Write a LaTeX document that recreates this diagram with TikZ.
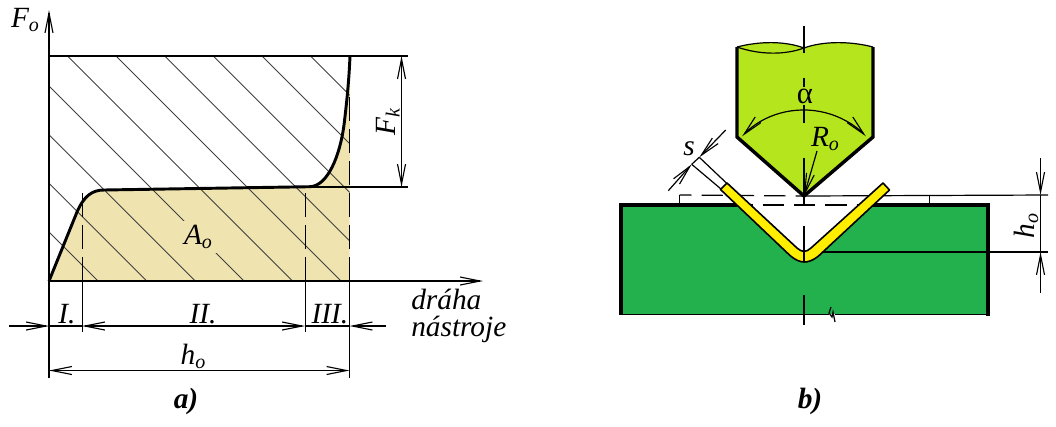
\documentclass[tikz,border=0pt]{standalone}
\usepackage{fontspec}
\setmainfont{Liberation Serif}
\usetikzlibrary{arrows.meta}
\definecolor{areafill}{HTML}{EFE3B0}
\definecolor{punchfill}{HTML}{B5E61D}
\definecolor{diefill}{HTML}{22B14C}
\definecolor{sheetfill}{HTML}{FFEE00}
\newcommand{\subsc}[1]{\raisebox{-3pt}{\fontsize{15}{15}\selectfont #1}}
\newcommand{\forcecurve}{(49,281) -- (77,212) .. controls (84,196) and (92,190) .. (104,190)
  -- (310,186.7) .. controls (328,186) and (340,155) .. (344,125) .. controls (347,100) and (349,80) .. (350,56)}
\tikzset{
  thinline/.style={line width=0.9pt},
  hatchline/.style={line width=0.65pt,black!75},
  thickline/.style={line width=2.2pt},
  longdash/.style={line width=0.8pt,dash pattern=on 18pt off 6pt},
  bendtip/.style={-{Straight Barb[length=15pt,width=6pt,line width=0.85pt]}},
  bothtip/.style={{Straight Barb[length=15pt,width=6pt,line width=0.85pt]}-{Straight Barb[length=15pt,width=6pt,line width=0.85pt]}},
  lbl/.style={inner sep=0pt,font=\fontsize{22}{20.5}\selectfont\itshape},
}
\begin{document}
\begin{tikzpicture}[x=0.75pt,y=-0.75pt]
  \useasboundingbox (0,0) rectangle (1056,426);
  % a) coordinates
  \coordinate (axistop) at (49,10);
  \coordinate (axisbot) at (49,378);
  \coordinate (xend) at (483,281);
  \coordinate (org) at (49,281);
  \coordinate (topl) at (49,56);
  \coordinate (topr) at (408,56);
  \coordinate (midl) at (310,187);
  \coordinate (midr) at (408,187);
  \coordinate (fkt) at (401.5,56);
  \coordinate (fkb) at (401.5,187);
  \coordinate (dl) at (9,326);
  \coordinate (d0) at (49,326);
  \coordinate (d1) at (82,326);
  \coordinate (d2) at (305,326);
  \coordinate (d3) at (349.5,326);
  \coordinate (dr) at (386,326);
  \coordinate (h0) at (49,370.5);
  \coordinate (h1) at (349.5,370.5);
  % a) area and hatching
  \fill[areafill] \forcecurve -- (349.5,281) -- cycle;
  \begin{scope}
    \clip (49,56) rectangle (349.5,281);
    \foreach \k in {-4,...,5}
      \draw[hatchline] ({67.5+48.6*\k},56) -- ++(240,240);
  \end{scope}
  \node[fill=areafill,minimum width=25.5pt,minimum height=24pt,inner sep=0pt] (areabg) at (200,237) {};
  \draw[thickline] \forcecurve;
  % a) axes and limits
  \draw[thinline,bendtip] (axisbot) -- (axistop);
  \draw[thinline,bendtip] (org) -- (xend);
  \draw[thinline] (topl) -- (topr);
  \draw[thinline] (midl) -- (midr);
  \draw[longdash] (82.4,281) -- (82.4,193);
  \draw[longdash] (305.4,281) -- (305.4,189);
  \draw[longdash] (349.5,281) -- (349.5,92);
  \draw[thinline] (82.4,281) -- (82.4,332);
  \draw[thinline] (305.4,281) -- (305.4,332);
  \draw[thinline] (349.5,281) -- (349.5,378);
  % a) dimensions
  \draw[thinline,bothtip] (fkt) -- (fkb);
  \draw[thinline,bendtip] (dl) -- (d0);
  \draw[thinline] (d0) -- (d1);
  \draw[thinline,bothtip] (d1) -- (d2);
  \draw[thinline] (d2) -- (d3);
  \draw[thinline,bendtip] (dr) -- (d3);
  \draw[thinline,bothtip] (h0) -- (h1);
  % a) labels
  \node[lbl] (fo) at (25,20) {F\subsc{o}};
  \node[lbl,rotate=90] (fk) at (388,122) {F\subsc{k}};
  \node[lbl] (ao) at (198,237) {A\subsc{o}};
  \node[lbl] (one) at (67,314) {I.};
  \node[lbl] (two) at (203,314) {II.};
  \node[lbl] (three) at (330,314) {III.};
  \node[lbl] (ho) at (193,356) {h\subsc{o}};
  \node[lbl,anchor=west,align=left] (path) at (411,316) {dráha\\nástroje};
  \node[lbl,font=\fontsize{22}{24}\selectfont\itshape\bfseries] (parta) at (186,401) {a)};
  % b) coordinates
  \coordinate (tip) at (804,196);
  \coordinate (leader) at (817,151);
  \coordinate (refl) at (679.5,195);
  \coordinate (refr) at (1048,195);
  \coordinate (refm) at (929.5,195);
  \coordinate (diel) at (679.5,205);
  \coordinate (dier) at (929.5,205);
  \coordinate (botl) at (804,252);
  \coordinate (botr) at (1048,252);
  \coordinate (hot) at (1040.5,158);
  \coordinate (hom) at (1040.5,195);
  \coordinate (hob) at (1040.5,293);
  \coordinate (hoc) at (1040.5,252);
  \coordinate (sa) at (668.3,190.7);
  \coordinate (sb) at (725.7,130);
  \coordinate (s1) at (691.7,164.3);
  \coordinate (s2) at (699.3,157.3);
  % b) die
  \fill[diefill] (621,205) -- (736,205) -- (790,255) .. controls (800,264) and (808,264) .. (818,256)
    -- (872,205) -- (988,205) -- (988,314.5) -- (621,314.5) -- cycle;
  \draw[thickline,line width=2.6pt] (737,205) -- (621,205) -- (621,314.5);
  \draw[thickline,line width=2.6pt] (872,205) -- (988,205) -- (988,316);
  \draw[thinline] (621,314.5) -- (988,314.5);
  \draw[line width=0.9pt,white] (829,314.5) -- (835,314.5);
  \draw[line width=0.9pt] (831,307) -- (829,313) -- (832,317) -- (833,312) -- (835,322);
  % b) reference lines
  \draw[thinline] (tip) -- (refr);
  \draw[thinline,dash pattern=on 16pt off 7.5pt,dash phase=7pt] (refl) -- (tip);
  \draw[thinline,dash pattern=on 16pt off 7.5pt] (731.4,205) -- (872,205);
  \draw[thinline] (refl) -- (diel);
  \draw[thinline] (refm) -- (dier);
  \draw[thinline] (botl) -- (botr);
  % b) centre line
  \foreach \ya/\yb in {196/205,226/262,295/325}
    \draw[thinline] (804,\ya) -- (804,\yb);
  % b) punch
  \fill[punchfill] (737,47) .. controls (760,41) and (785,41) .. (804,48)
    .. controls (823,41) and (850,41) .. (873,47) -- (873,137) -- (tip) -- (737,137) -- cycle;
  \draw[thinline] (737,47) .. controls (760,41) and (785,41) .. (804,48)
    .. controls (823,41) and (850,41) .. (873,47);
  \draw[thinline] (737,47) .. controls (760,55) and (785,55) .. (804,48);
  \draw[thickline,line width=2.6pt] (737,47) -- (737,137) -- (tip) -- (873,137) -- (873,47);
  \foreach \ya/\yb in {26/53,78/87,105/123,158/196}
    \draw[thinline] (804,\ya) -- (804,\yb);
  \draw[thinline,bothtip] (tip) ++(-136:86) arc (-136:-44:86);
  \draw[thinline,bendtip] (leader) -- (tip);
  % b) sheet
  \filldraw[fill=sheetfill,draw=black,line width=1.2pt,line join=round]
    (720.5,189.5) -- (790,255.5) .. controls (800,264) and (808,264) .. (818,256.5) -- (889.5,190)
    -- (883,183) -- (811,248) .. controls (806,252.5) and (802,252.5) .. (797,248)
    -- (727,183) -- cycle;
  \draw[thinline] (804,252) -- (804,262);
  % b) dimensions
  \draw[thinline] (726.7,183.3) -- (s2);
  \draw[thinline] (721,189) -- (s1);
  \draw[thinline,bendtip] (sa) -- (s1);
  \draw[thinline,bendtip] (sb) -- (s2);
  \draw[thinline] (s1) -- (s2);
  \draw[thinline,bendtip] (hot) -- (hom);
  \draw[thinline] (hom) -- (hoc);
  \draw[thinline,bendtip] (hob) -- (hoc);
  % b) labels
  \node[lbl,font=\fontsize{23}{23}\selectfont] (alpha) at (805,96) {α};
  \node[lbl] (ro) at (825,139) {R\subsc{o}};
  \node[lbl] (sl) at (689,149) {s};
  \node[lbl,rotate=90] (hol) at (1026,226) {h\subsc{o}};
  \node[lbl,font=\fontsize{22}{24}\selectfont\itshape\bfseries] (partb) at (810,401) {b)};
\end{tikzpicture}
\end{document}
